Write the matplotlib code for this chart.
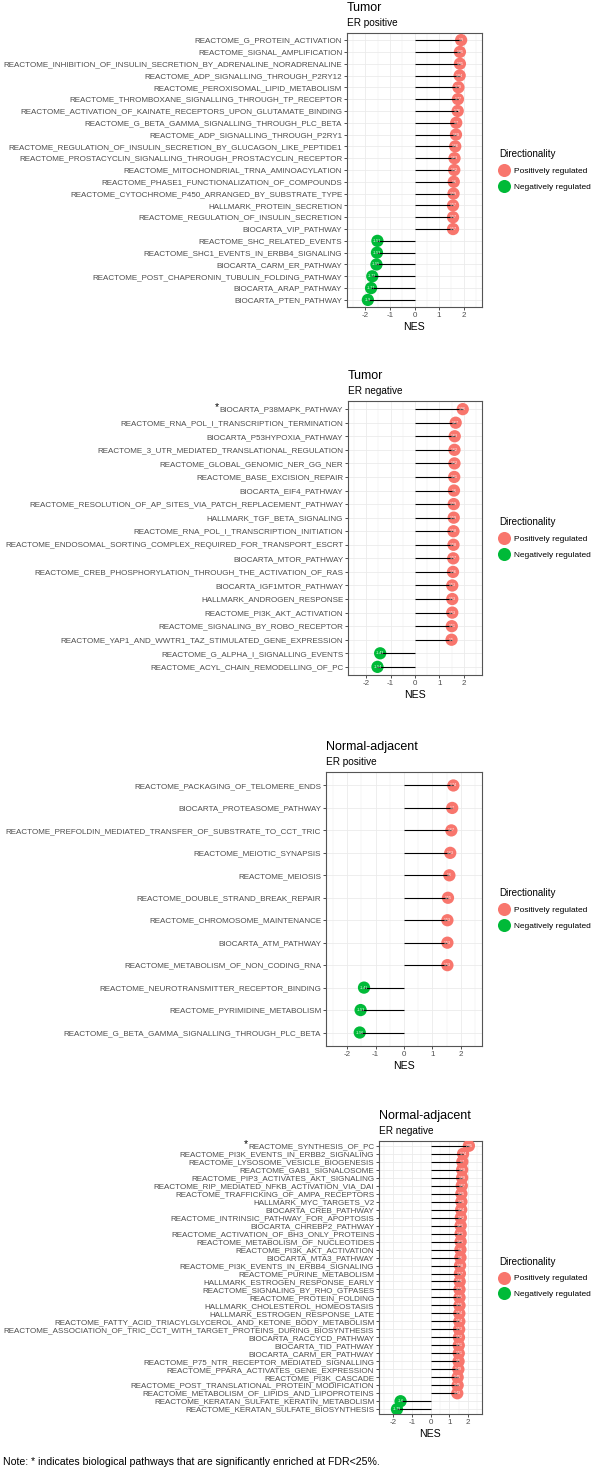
import matplotlib
matplotlib.use("Agg")
import matplotlib.pyplot as plt
from matplotlib.lines import Line2D
import numpy as np

plt.rcParams['font.family'] = ['Liberation Sans', 'DejaVu Sans']
plt.rcParams['axes.unicode_minus'] = False

####################################################################################
# data (NES, top row first)

tumor_pos_names = [
    "REACTOME_G_PROTEIN_ACTIVATION",
    "REACTOME_SIGNAL_AMPLIFICATION",
    "REACTOME_INHIBITION_OF_INSULIN_SECRETION_BY_ADRENALINE_NORADRENALINE",
    "REACTOME_ADP_SIGNALLING_THROUGH_P2RY12",
    "REACTOME_PEROXISOMAL_LIPID_METABOLISM",
    "REACTOME_THROMBOXANE_SIGNALLING_THROUGH_TP_RECEPTOR",
    "REACTOME_ACTIVATION_OF_KAINATE_RECEPTORS_UPON_GLUTAMATE_BINDING",
    "REACTOME_G_BETA_GAMMA_SIGNALLING_THROUGH_PLC_BETA",
    "REACTOME_ADP_SIGNALLING_THROUGH_P2RY1",
    "REACTOME_REGULATION_OF_INSULIN_SECRETION_BY_GLUCAGON_LIKE_PEPTIDE1",
    "REACTOME_PROSTACYCLIN_SIGNALLING_THROUGH_PROSTACYCLIN_RECEPTOR",
    "REACTOME_MITOCHONDRIAL_TRNA_AMINOACYLATION",
    "REACTOME_PHASE1_FUNCTIONALIZATION_OF_COMPOUNDS",
    "REACTOME_CYTOCHROME_P450_ARRANGED_BY_SUBSTRATE_TYPE",
    "HALLMARK_PROTEIN_SECRETION",
    "REACTOME_REGULATION_OF_INSULIN_SECRETION",
    "BIOCARTA_VIP_PATHWAY",
    "REACTOME_SHC_RELATED_EVENTS",
    "REACTOME_SHC1_EVENTS_IN_ERBB4_SIGNALING",
    "BIOCARTA_CARM_ER_PATHWAY",
    "REACTOME_POST_CHAPERONIN_TUBULIN_FOLDING_PATHWAY",
    "BIOCARTA_ARAP_PATHWAY",
    "BIOCARTA_PTEN_PATHWAY",
]
tumor_pos_nes = [1.9, 1.85, 1.85, 1.84, 1.79, 1.77, 1.76, 1.7, 1.69, 1.66, 1.63,
                 1.62, 1.6, 1.59, 1.57, 1.57, 1.57,
                 -1.51, -1.53, -1.55, -1.72, -1.77, -1.9]

tumor_neg_names = [
    "BIOCARTA_P38MAPK_PATHWAY",
    "REACTOME_RNA_POL_I_TRANSCRIPTION_TERMINATION",
    "BIOCARTA_P53HYPOXIA_PATHWAY",
    "REACTOME_3_UTR_MEDIATED_TRANSLATIONAL_REGULATION",
    "REACTOME_GLOBAL_GENOMIC_NER_GG_NER",
    "REACTOME_BASE_EXCISION_REPAIR",
    "BIOCARTA_EIF4_PATHWAY",
    "REACTOME_RESOLUTION_OF_AP_SITES_VIA_PATCH_REPLACEMENT_PATHWAY",
    "HALLMARK_TGF_BETA_SIGNALING",
    "REACTOME_RNA_POL_I_TRANSCRIPTION_INITIATION",
    "REACTOME_ENDOSOMAL_SORTING_COMPLEX_REQUIRED_FOR_TRANSPORT_ESCRT",
    "BIOCARTA_MTOR_PATHWAY",
    "REACTOME_CREB_PHOSPHORYLATION_THROUGH_THE_ACTIVATION_OF_RAS",
    "BIOCARTA_IGF1MTOR_PATHWAY",
    "HALLMARK_ANDROGEN_RESPONSE",
    "REACTOME_PI3K_AKT_ACTIVATION",
    "REACTOME_SIGNALING_BY_ROBO_RECEPTOR",
    "REACTOME_YAP1_AND_WWTR1_TAZ_STIMULATED_GENE_EXPRESSION",
    "REACTOME_G_ALPHA_I_SIGNALLING_EVENTS",
    "REACTOME_ACYL_CHAIN_REMODELLING_OF_PC",
]
tumor_neg_nes = [1.96, 1.67, 1.63, 1.62, 1.62, 1.61, 1.6, 1.59, 1.59, 1.58, 1.58,
                 1.57, 1.56, 1.53, 1.53, 1.53, 1.51, 1.5, -1.43, -1.54]

normal_pos_names = [
    "REACTOME_PACKAGING_OF_TELOMERE_ENDS",
    "BIOCARTA_PROTEASOME_PATHWAY",
    "REACTOME_PREFOLDIN_MEDIATED_TRANSFER_OF_SUBSTRATE_TO_CCT_TRIC",
    "REACTOME_MEIOTIC_SYNAPSIS",
    "REACTOME_MEIOSIS",
    "REACTOME_DOUBLE_STRAND_BREAK_REPAIR",
    "REACTOME_CHROMOSOME_MAINTENANCE",
    "BIOCARTA_ATM_PATHWAY",
    "REACTOME_METABOLISM_OF_NON_CODING_RNA",
    "REACTOME_NEUROTRANSMITTER_RECEPTOR_BINDING",
    "REACTOME_PYRIMIDINE_METABOLISM",
    "REACTOME_G_BETA_GAMMA_SIGNALLING_THROUGH_PLC_BETA",
]
normal_pos_nes = [1.74, 1.7, 1.67, 1.63, 1.6, 1.55, 1.53, 1.53, 1.53,
                  -1.41, -1.53, -1.56]

normal_neg_names = [
    "REACTOME_SYNTHESIS_OF_PC",
    "REACTOME_PI3K_EVENTS_IN_ERBB2_SIGNALING",
    "REACTOME_LYSOSOME_VESICLE_BIOGENESIS",
    "REACTOME_GAB1_SIGNALOSOME",
    "REACTOME_PIP3_ACTIVATES_AKT_SIGNALING",
    "REACTOME_RIP_MEDIATED_NFKB_ACTIVATION_VIA_DAI",
    "REACTOME_TRAFFICKING_OF_AMPA_RECEPTORS",
    "HALLMARK_MYC_TARGETS_V2",
    "BIOCARTA_CREB_PATHWAY",
    "REACTOME_INTRINSIC_PATHWAY_FOR_APOPTOSIS",
    "BIOCARTA_CHREBP2_PATHWAY",
    "REACTOME_ACTIVATION_OF_BH3_ONLY_PROTEINS",
    "REACTOME_METABOLISM_OF_NUCLEOTIDES",
    "REACTOME_PI3K_AKT_ACTIVATION",
    "BIOCARTA_MTA3_PATHWAY",
    "REACTOME_PI3K_EVENTS_IN_ERBB4_SIGNALING",
    "REACTOME_PURINE_METABOLISM",
    "HALLMARK_ESTROGEN_RESPONSE_EARLY",
    "REACTOME_SIGNALING_BY_RHO_GTPASES",
    "REACTOME_PROTEIN_FOLDING",
    "HALLMARK_CHOLESTEROL_HOMEOSTASIS",
    "HALLMARK_ESTROGEN_RESPONSE_LATE",
    "REACTOME_FATTY_ACID_TRIACYLGLYCEROL_AND_KETONE_BODY_METABOLISM",
    "REACTOME_ASSOCIATION_OF_TRIC_CCT_WITH_TARGET_PROTEINS_DURING_BIOSYNTHESIS",
    "BIOCARTA_RACCYCD_PATHWAY",
    "BIOCARTA_TID_PATHWAY",
    "BIOCARTA_CARM_ER_PATHWAY",
    "REACTOME_P75_NTR_RECEPTOR_MEDIATED_SIGNALLING",
    "REACTOME_PPARA_ACTIVATES_GENE_EXPRESSION",
    "REACTOME_PI3K_CASCADE",
    "REACTOME_POST_TRANSLATIONAL_PROTEIN_MODIFICATION",
    "REACTOME_METABOLISM_OF_LIPIDS_AND_LIPOPROTEINS",
    "REACTOME_KERATAN_SULFATE_KERATIN_METABOLISM",
    "REACTOME_KERATAN_SULFATE_BIOSYNTHESIS",
]
normal_neg_nes = [2.05, 1.74, 1.7, 1.69, 1.69, 1.67, 1.65, 1.65, 1.64, 1.62, 1.61,
                  1.61, 1.61, 1.6, 1.6, 1.58, 1.57, 1.56, 1.55, 1.55, 1.55, 1.54,
                  1.54, 1.53, 1.52, 1.51, 1.51, 1.5, 1.49, 1.45, 1.45, 1.43,
                  -1.6, -1.79]

POS_COL = "#F8766D"
NEG_COL = "#00BA38"
W, H = 596, 1471

####################################################################################
# one lollipop panel


def draw_panel(box, names, nes, title, subtitle, star=False):
    l, r, t, b = box
    ax = fig.add_axes([l / W, 1 - b / H, (r - l) / W, (b - t) / H])
    n = len(names)
    y = np.arange(n)[::-1]
    nes = np.asarray(nes)
    cols = np.where(nes > 0, POS_COL, NEG_COL)

    ax.scatter(nes, y, s=78, c=cols, linewidths=0, zorder=3)
    ax.hlines(y, 0, nes, color="black", lw=0.8, zorder=4)
    for v, yi in zip(nes, y):
        ax.text(v, yi, f"{v:g}", color="white", fontsize=2.6,
                ha="center", va="center", zorder=5)

    ax.set_xlim(-2.75, 2.75)
    ax.set_ylim(-0.6, n - 0.4)
    ax.set_yticks(y)
    ax.set_yticklabels(names)
    ax.set_xticks([-2, -1, 0, 1, 2])
    ax.set_xticks([-2.5, -1.5, -0.5, 0.5, 1.5, 2.5], minor=True)
    ax.tick_params(which="major", labelsize=5.8, labelcolor="#4D4D4D",
                   color="#333333", length=2, width=0.6, pad=1.5)
    ax.tick_params(which="minor", length=0)
    ax.grid(which="major", color="#EBEBEB", lw=0.6)
    ax.grid(which="minor", axis="x", color="#EBEBEB", lw=0.3)
    ax.set_axisbelow(True)
    for sp in ax.spines.values():
        sp.set_color("#555555")
        sp.set_linewidth(0.8)
    ax.set_xlabel("NES", fontsize=7.6, labelpad=2.5)

    fig.text(l / W, 1 - (t - 25) / H, title, fontsize=9, va="center")
    fig.text(l / W, 1 - (t - 10) / H, subtitle, fontsize=7.2, va="center")

    handles = [Line2D([], [], ls="", marker="o", ms=9.4, mew=0, color=c)
               for c in (POS_COL, NEG_COL)]
    ax.legend(handles, ["Positively regulated", "Negatively regulated"],
              title="Directionality", loc="center left",
              bbox_to_anchor=(495 / W, 1 - (t + b) / 2 / H),
              bbox_transform=fig.transFigure, frameon=False, fontsize=6,
              title_fontsize=7.1, alignment="left", borderpad=0,
              handlelength=1.2, handletextpad=0.6, labelspacing=0.95)

    if star:
        fig.canvas.draw()
        bb = ax.get_yticklabels()[0].get_window_extent()
        fig.text((bb.x0 - 0.5) / W, (bb.y0 + bb.y1) / 2 / H + 3 / H, "*",
                 fontsize=7.5, ha="right", va="center")
    return ax


####################################################################################
# main

fig = plt.figure(figsize=(W / 100, H / 100), dpi=100)

draw_panel((347, 482, 33, 307), tumor_pos_names, tumor_pos_nes, "Tumor", "ER positive")
draw_panel((348, 482, 401, 675), tumor_neg_names, tumor_neg_nes, "Tumor", "ER negative", star=True)
draw_panel((326, 482, 772, 1046), normal_pos_names, normal_pos_nes, "Normal-adjacent", "ER positive")
draw_panel((379, 482, 1141, 1414), normal_neg_names, normal_neg_nes, "Normal-adjacent", "ER negative", star=True)

fig.text(3 / W, 1 - 1462 / H,
         "Note: * indicates biological pathways that are significantly enriched at FDR<25%.",
         fontsize=7.6, va="center")

fig.savefig("out.png", dpi=100)
